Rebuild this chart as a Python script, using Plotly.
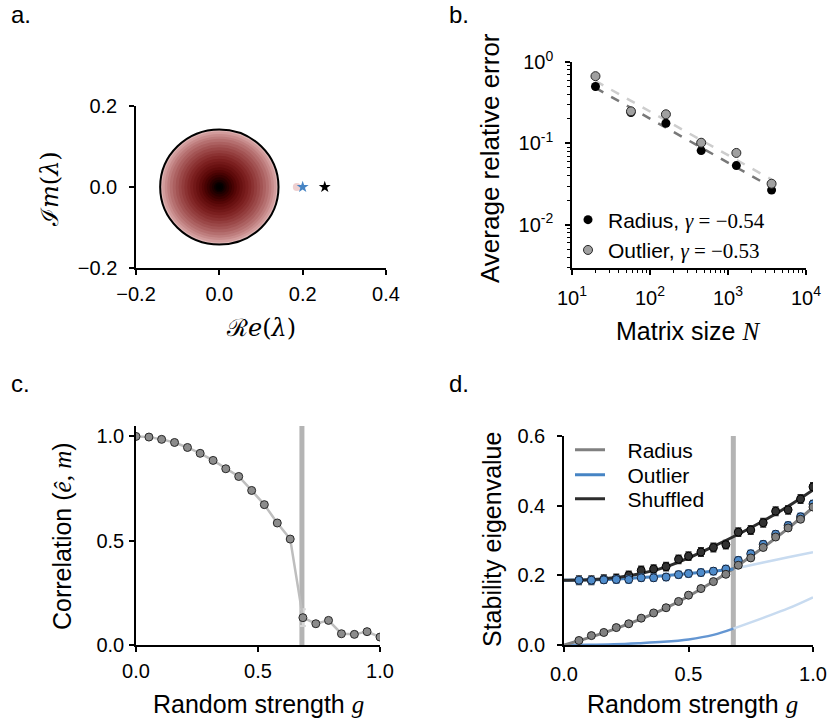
import plotly.graph_objects as go

W, H = 827, 723
SANS = "Liberation Sans, Arial, sans-serif"
SERIF = "Liberation Serif, DejaVu Serif, serif"

# ---------------- Panel a: eigenvalue spectrum ----------------
cloud_r = [0.143, 0.137, 0.131, 0.125, 0.119, 0.112, 0.105, 0.098, 0.091, 0.084,
           0.077, 0.070, 0.063, 0.056, 0.049, 0.042, 0.036, 0.030, 0.024, 0.018,
           0.013, 0.009, 0.005]
cloud_color = ["rgb(222,180,180)", "rgb(210,156,156)", "rgb(200,140,140)", "rgb(190,125,125)",
               "rgb(181,111,111)", "rgb(172,97,97)", "rgb(163,84,84)", "rgb(155,72,72)",
               "rgb(147,61,61)", "rgb(139,50,50)", "rgb(131,40,40)", "rgb(123,31,31)",
               "rgb(114,24,24)", "rgb(105,17,17)", "rgb(95,11,11)", "rgb(84,6,6)",
               "rgb(71,3,3)", "rgb(57,1,1)", "rgb(42,0,0)", "rgb(28,0,0)",
               "rgb(14,0,0)", "rgb(4,0,0)", "rgb(0,0,0)"]
bulk_radius = 0.142
outlier_pred = [0.200]      # blue star (predicted outlier)
outlier_shuf = [0.253]      # black star (shuffled)
outlier_emp = [0.186]       # pink dot (empirical outlier)

# ---------------- Panel b: finite-size scaling ----------------
N = [20, 57, 160, 453, 1280, 3620]
radius_err = [0.50, 0.239, 0.177, 0.0817, 0.0534, 0.0267]
radius_sd = [0.06, 0.02, 0.015, 0.008, 0.005, 0.002]
outlier_err = [0.67, 0.248, 0.228, 0.102, 0.0764, 0.032]
outlier_sd = [0.07, 0.025, 0.02, 0.009, 0.006, 0.003]
N_fit = [20, 3620]
radius_fit = [0.48, 0.029]
outlier_fit = [0.585, 0.036]
b_xticks = [10, 100, 1000, 10000]
b_xticklabels = ["10<sup>1</sup>", "10<sup>2</sup>", "10<sup>3</sup>", "10<sup>4</sup>"]
b_yticks = [0.01, 0.1, 1]
b_yticklabels = ["10<sup>-2</sup>", "10<sup>-1</sup>", "10<sup>0</sup>"]

# ---------------- Panel c: correlation ----------------
c_g = [0.0, 0.053, 0.105, 0.158, 0.211, 0.263, 0.316, 0.368, 0.421, 0.474,
       0.526, 0.579, 0.632, 0.684, 0.737, 0.789, 0.842, 0.895, 0.947, 1.0]
c_corr = [1.0, 0.997, 0.986, 0.971, 0.947, 0.919, 0.885, 0.845, 0.808, 0.741,
          0.673, 0.585, 0.508, 0.131, 0.102, 0.118, 0.054, 0.051, 0.064, 0.038]
c_sd = [0, 0, 0, 0, 0, 0, 0, 0, 0, 0, 0, 0, 0, 0.04, 0.012, 0.012, 0.01, 0.01, 0.01, 0.01]
g_crit = 0.68

# ---------------- Panel d: stability eigenvalue ----------------
d_g = [0.06, 0.11, 0.16, 0.21, 0.26, 0.31, 0.36, 0.41, 0.46, 0.50,
       0.55, 0.60, 0.65, 0.70, 0.75, 0.80, 0.85, 0.90, 0.95, 1.00]
d_radius = [0.013, 0.027, 0.036, 0.050, 0.061, 0.077, 0.092, 0.107, 0.125, 0.143,
            0.162, 0.182, 0.203, 0.229, 0.250, 0.280, 0.310, 0.336, 0.361, 0.396]
d_outlier = [0.186, 0.186, 0.187, 0.188, 0.188, 0.193, 0.193, 0.195, 0.202, 0.205,
             0.208, 0.212, 0.218, 0.243, 0.262, 0.289, 0.318, 0.343, 0.368, 0.405]
d_shuffled = [0.186, 0.186, 0.189, 0.191, 0.200, 0.214, 0.218, 0.225, 0.246, 0.255,
              0.267, 0.280, 0.288, 0.324, 0.330, 0.351, 0.384, 0.388, 0.419, 0.454]
d_radius_sd = [0.004] * 20
d_outlier_sd = [0.010] * 20
d_shuffled_sd = [0.012] * 20

th_g = [0.0, 0.1, 0.2, 0.3, 0.4, 0.5, 0.6, 0.7, 0.8, 0.9, 1.0]
th_radius = [0.0, 0.021, 0.045, 0.072, 0.103, 0.140, 0.182, 0.229, 0.280, 0.335, 0.395]
th_shuffled = [0.186, 0.187, 0.193, 0.204, 0.222, 0.250, 0.283, 0.318, 0.356, 0.398, 0.445]
th_out_g = [0.0, 0.1, 0.2, 0.3, 0.4, 0.5, 0.6, 0.68]
th_outlier = [0.186, 0.187, 0.189, 0.193, 0.199, 0.205, 0.212, 0.218]
th_low = [0.0, 0.0005, 0.002, 0.005, 0.009, 0.016, 0.029, 0.047]
th_out_g2 = [0.68, 0.8, 0.9, 1.0]
th_outlier2 = [0.218, 0.237, 0.252, 0.266]
th_low2 = [0.047, 0.078, 0.105, 0.137]

# ---------------- colours ----------------
BLUE = "rgb(70,132,196)"
BLUE_FAINT = "rgb(200,219,240)"
GREY = "rgb(128,128,128)"
DARK = "rgb(45,45,45)"


def px_x(p):
    return p / W


def px_y(p):
    return 1 - p / H


fig = go.Figure()

# ----- panel a traces -----
fig.add_trace(go.Scatter(x=outlier_emp, y=[0], mode="markers", xaxis="x", yaxis="y",
                         marker=dict(size=8, color="rgba(220,150,150,0.45)"), showlegend=False))
fig.add_trace(go.Scatter(x=outlier_pred, y=[0], mode="markers", xaxis="x", yaxis="y",
                         marker=dict(symbol="star", size=9, color=BLUE), showlegend=False))
fig.add_trace(go.Scatter(x=outlier_shuf, y=[0], mode="markers", xaxis="x", yaxis="y",
                         marker=dict(symbol="star", size=9, color="black"), showlegend=False))
for r, col in zip(cloud_r, cloud_color):
    fig.add_shape(type="circle", xref="x", yref="y", x0=-r, y0=-r, x1=r, y1=r,
                  fillcolor=col, line_width=0, layer="below")
fig.add_shape(type="circle", xref="x", yref="y", x0=-bulk_radius, y0=-bulk_radius,
              x1=bulk_radius, y1=bulk_radius, line=dict(color="black", width=2))

# ----- panel b traces -----
fig.add_trace(go.Scatter(x=N_fit, y=outlier_fit, mode="lines", xaxis="x2", yaxis="y2",
                         line=dict(color="rgb(205,205,205)", width=2.5, dash="dash"), showlegend=False))
fig.add_trace(go.Scatter(x=N_fit, y=radius_fit, mode="lines", xaxis="x2", yaxis="y2",
                         line=dict(color="rgb(120,120,120)", width=2.5, dash="dash"), showlegend=False))
fig.add_trace(go.Scatter(x=N, y=radius_err, mode="markers", xaxis="x2", yaxis="y2",
                         error_y=dict(type="data", array=radius_sd, color="black", thickness=1.5, width=0),
                         marker=dict(size=9, color="black"),
                         name="Radius, <span style='font-family:Liberation Serif'><i>γ</i> = −0.54</span>",
                         legend="legend"))
fig.add_trace(go.Scatter(x=N, y=outlier_err, mode="markers", xaxis="x2", yaxis="y2",
                         error_y=dict(type="data", array=outlier_sd, color="rgb(175,175,175)", thickness=1.5, width=0),
                         marker=dict(size=9, color="rgb(160,160,160)", line=dict(color="rgb(40,40,40)", width=1)),
                         name="Outlier, <span style='font-family:Liberation Serif'><i>γ</i> = −0.53</span>",
                         legend="legend"))

# ----- panel c traces -----
fig.add_shape(type="line", xref="x3", yref="y3 domain", x0=g_crit, x1=g_crit, y0=0, y1=1,
              line=dict(color="rgb(180,180,180)", width=5), layer="below")
fig.add_trace(go.Scatter(x=c_g, y=c_corr, mode="lines+markers", xaxis="x3", yaxis="y3",
                         line=dict(color="rgb(190,190,190)", width=2.5),
                         error_y=dict(type="data", array=c_sd, color="rgb(215,215,215)", thickness=2, width=3),
                         marker=dict(size=8, color="rgb(140,140,140)", line=dict(color="rgb(40,40,40)", width=1)),
                         showlegend=False))

# ----- panel d traces -----
fig.add_shape(type="line", xref="x4", yref="y4 domain", x0=g_crit, x1=g_crit, y0=0, y1=1,
              line=dict(color="rgb(180,180,180)", width=5), layer="below")
fig.add_trace(go.Scatter(x=th_out_g2, y=th_outlier2, mode="lines", xaxis="x4", yaxis="y4",
                         line=dict(color=BLUE_FAINT, width=2.5, shape="spline"), showlegend=False))
fig.add_trace(go.Scatter(x=th_out_g2, y=th_low2, mode="lines", xaxis="x4", yaxis="y4",
                         line=dict(color=BLUE_FAINT, width=2.5, shape="spline"), showlegend=False))
fig.add_trace(go.Scatter(x=th_out_g, y=th_low, mode="lines", xaxis="x4", yaxis="y4",
                         line=dict(color="rgb(100,150,210)", width=2.5, shape="spline"), showlegend=False))
fig.add_trace(go.Scatter(x=th_g, y=th_radius, mode="lines", xaxis="x4", yaxis="y4",
                         line=dict(color=GREY, width=3, shape="spline"),
                         name="\u00a0\u00a0\u00a0Radius", legend="legend2"))
fig.add_trace(go.Scatter(x=th_out_g, y=th_outlier, mode="lines", xaxis="x4", yaxis="y4",
                         line=dict(color=BLUE, width=3, shape="spline"),
                         name="\u00a0\u00a0\u00a0Outlier", legend="legend3"))
fig.add_trace(go.Scatter(x=th_g, y=th_shuffled, mode="lines", xaxis="x4", yaxis="y4",
                         line=dict(color=DARK, width=3, shape="spline"),
                         name="\u00a0\u00a0\u00a0Shuffled", legend="legend4"))
fig.add_trace(go.Scatter(x=d_g, y=d_shuffled, mode="markers", xaxis="x4", yaxis="y4",
                         error_y=dict(type="data", array=d_shuffled_sd, color=DARK, thickness=1.5, width=3),
                         marker=dict(size=8, color="rgb(50,50,50)", line=dict(color="black", width=1)),
                         showlegend=False))
fig.add_trace(go.Scatter(x=d_g, y=d_outlier, mode="markers", xaxis="x4", yaxis="y4",
                         error_y=dict(type="data", array=d_outlier_sd, color=BLUE, thickness=1.5, width=3),
                         marker=dict(size=8, color="rgb(78,140,204)", line=dict(color="rgb(25,35,55)", width=1)),
                         showlegend=False))
fig.add_trace(go.Scatter(x=d_g, y=d_radius, mode="markers", xaxis="x4", yaxis="y4",
                         error_y=dict(type="data", array=d_radius_sd, color=GREY, thickness=1.5, width=3),
                         marker=dict(size=8, color="rgb(130,130,130)", line=dict(color="rgb(35,35,35)", width=1)),
                         showlegend=False))

# ----- axes -----
TICKFONT = dict(family=SANS, size=20, color="black")
base = dict(showgrid=False, zeroline=False, showline=True, linecolor="black", linewidth=1.5,
            ticks="outside", ticklen=5, tickwidth=1.5, tickcolor="black", tickfont=TICKFONT,
            mirror=False, automargin=False)

A_X = [px_x(136), px_x(386)]
A_Y = [px_y(268), px_y(106)]
B_X = [px_x(572), px_x(806)]
B_Y = [px_y(268), px_y(62)]
C_X = [px_x(136), px_x(380)]
C_Y = [px_y(645), px_y(426)]
D_X = [px_x(564), px_x(813)]
D_Y = [px_y(645), px_y(436)]

LEG = dict(xanchor="left", yanchor="middle", bgcolor="rgba(0,0,0,0)",
           font=dict(family=SANS, size=21, color="black"), tracegroupgap=0, itemwidth=30)

fig.update_layout(
    width=W, height=H, margin=dict(l=0, r=0, t=0, b=0, autoexpand=False),
    paper_bgcolor="white", plot_bgcolor="white",
    font=dict(family=SANS, color="black"),
    xaxis=dict(base, domain=A_X, anchor="y", range=[-0.2, 0.4], tickvals=[-0.2, 0, 0.2, 0.4],
               tickformat=".1f", ticklabelstandoff=2),
    yaxis=dict(base, domain=A_Y, anchor="x", range=[-0.2, 0.2], tickvals=[-0.2, 0, 0.2],
               tickformat=".1f", ticklabelstandoff=8),
    xaxis2=dict(base, domain=B_X, anchor="y2", type="log", range=[1, 4], tickvals=b_xticks,
                ticktext=b_xticklabels, ticklabelstandoff=6,
                minor=dict(ticks="outside", ticklen=3, tickwidth=1, tickcolor="black", dtick="D1")),
    yaxis2=dict(base, domain=B_Y, anchor="x2", type="log", range=[-2.53, 0], tickvals=b_yticks,
                ticktext=b_yticklabels, ticklabelstandoff=8,
                minor=dict(ticks="outside", ticklen=3, tickwidth=1, tickcolor="black", dtick="D1")),
    xaxis3=dict(base, domain=C_X, anchor="y3", range=[0, 1], tickvals=[0, 0.5, 1],
                tickformat=".1f", ticklabelstandoff=2),
    yaxis3=dict(base, domain=C_Y, anchor="x3", range=[0, 1.05], tickvals=[0, 0.5, 1],
                tickformat=".1f", ticklabelstandoff=1),
    xaxis4=dict(base, domain=D_X, anchor="y4", range=[0, 1], tickvals=[0, 0.5, 1],
                tickformat=".1f", ticklabelstandoff=5),
    yaxis4=dict(base, domain=D_Y, anchor="x4", range=[0, 0.6], tickvals=[0, 0.2, 0.4, 0.6],
                tickformat=".1f", ticklabelstandoff=8),
    legend=dict(LEG, x=px_x(568), y=px_y(235)),
    legend2=dict(LEG, x=px_x(570), y=px_y(450)),
    legend3=dict(LEG, x=px_x(570), y=px_y(475)),
    legend4=dict(LEG, x=px_x(570), y=px_y(499)),
)

# ----- text annotations (panel letters and axis titles) -----
TITLE = dict(family=SANS, size=25, color="black")


def ann(text, x, y, angle=0, size=25, xanchor="center", yanchor="middle"):
    fig.add_annotation(text=text, x=px_x(x), y=px_y(y), xref="paper", yref="paper",
                       showarrow=False, textangle=angle, xanchor=xanchor, yanchor=yanchor,
                       font=dict(TITLE, size=size), borderpad=0)


ann("a.", 10, 0, xanchor="left", yanchor="top", size=24)
ann("b.", 448, 0, xanchor="left", yanchor="top", size=24)
ann("c.", 10, 369, xanchor="left", yanchor="top", size=24)
ann("d.", 448, 369, xanchor="left", yanchor="top", size=24)

ann("<span style='font-family:DejaVu Serif'>ℐ<i>m</i>(<i>λ</i>)</span>", 50, 189, angle=-90, size=24)
ann("<span style='font-family:DejaVu Serif'>ℛ<i>e</i>(<i>λ</i>)</span>", 261, 328, size=24)
ann("Average relative error", 490, 158, angle=-90, size=26)
ann("Matrix size <span style='font-family:Liberation Serif'><i>N</i></span>", 688, 331)
ann("Correlation (<span style='font-family:Liberation Serif'><i>ê</i>, <i>m</i></span>)", 62, 536, angle=-90)
ann("Random strength <span style='font-family:Liberation Serif'><i>g</i></span>", 258, 704)
ann("Stability eigenvalue", 492, 540, angle=-90)
ann("Random strength <span style='font-family:Liberation Serif'><i>g</i></span>", 692, 704)

fig.write_html("out.html", config={"displayModeBar": False},
               post_script="document.body.style.margin='0';document.body.style.padding='0';"
                           "document.body.style.overflow='hidden';")
